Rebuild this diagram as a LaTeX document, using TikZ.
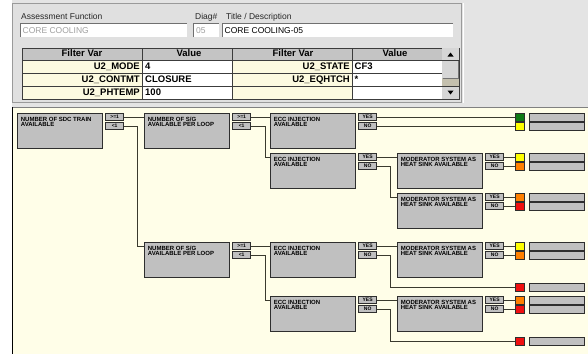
\documentclass[tikz,border=0pt]{standalone}
\usepackage{fontspec}
\setmainfont{Liberation Sans}
\usetikzlibrary{calc}
\definecolor{pagebg}{HTML}{E4E4E4}
\definecolor{panelbg}{HTML}{E0E0E0}
\definecolor{panelline}{HTML}{9A9A9A}
\definecolor{fieldline}{HTML}{707070}
\definecolor{disabledtxt}{HTML}{A0A0A0}
\definecolor{headgray}{HTML}{C4C4C4}
\definecolor{cellcream}{HTML}{FCFAE0}
\definecolor{tableline}{HTML}{3C3C3C}
\definecolor{sbgray}{HTML}{D6D6D6}
\definecolor{sbtrack}{HTML}{C4C0AE}
\definecolor{diagbg}{HTML}{FFFEE8}
\definecolor{boxgray}{HTML}{C0C0C0}
\definecolor{boxline}{HTML}{2E2E2E}
\definecolor{wirecol}{HTML}{3A3A2E}
\definecolor{sqgreen}{HTML}{0E7A14}
\definecolor{sqyellow}{HTML}{FFFF00}
\definecolor{sqorange}{HTML}{FF8000}
\definecolor{sqred}{HTML}{F01010}
\newcommand{\dgtext}[2]{\parbox[t][28pt][t]{78pt}{\raggedright #1\\#2}}
\begin{document}
\begin{tikzpicture}[x=1pt,y=-1pt,
  lbl/.style={font=\fontsize{8.5}{10}\selectfont, anchor=base west, inner sep=0pt, text=black!85},
  fieldtxt/.style={font=\fontsize{8.5}{10}\selectfont, anchor=base west, inner sep=0pt},
  th/.style={font=\fontsize{9.5}{11}\bfseries\selectfont, anchor=base, inner sep=0pt},
  tdr/.style={font=\fontsize{9.5}{11}\bfseries\selectfont, anchor=base east, inner sep=0pt},
  tdl/.style={font=\fontsize{9.5}{11}\bfseries\selectfont, anchor=base west, inner sep=0pt},
  dgbox/.style={draw=boxline, fill=boxgray, line width=0.8pt, anchor=north west,
    inner xsep=3.5pt, inner ysep=3.5pt, font=\fontsize{6}{5.2}\bfseries\selectfont},
  port/.style={draw=boxline, fill=boxgray, line width=0.7pt, anchor=west,
    minimum width=18pt, minimum height=6.5pt, inner sep=0pt,
    font=\fontsize{5}{5}\bfseries\selectfont},
  wire/.style={draw=wirecol, line width=0.8pt},
  sq/.style={draw=boxline, line width=0.6pt, anchor=west, minimum width=9pt,
    minimum height=8pt, inner sep=0pt},
  bar/.style={draw=boxline, fill=boxgray, line width=0.7pt, anchor=west,
    minimum width=55pt, minimum height=8pt, inner sep=0pt}
]
\useasboundingbox (0,0) rectangle (588,354);
% ---------- backgrounds ----------
\fill[white] (0,0) rectangle (588,354);
\fill[pagebg] (12,0) rectangle (588,107);
\fill[panelbg] (12,3) rectangle (462,103);
\draw[panelline, line width=0.8pt] (12.4,3.4) rectangle (461.6,102.6);
\draw[white, line width=0.8pt] (463.2,3) -- (463.2,103);
% ---------- fields ----------
\node[lbl] (lafn) at (21,19.5) {Assessment Function};
\node[lbl] (ldiag) at (195,19.5) {Diag\#};
\node[lbl] (ltitle) at (226,19.5) {Title / Description};
\fill[white] (20,23) rectangle (187,37);
\fill[white] (193,23) rectangle (219,37);
\fill[white] (222,23) rectangle (453,37);
\draw[fieldline, line width=1.4pt] (20.7,37) -- (20.7,23.7) -- (187,23.7);
\draw[fieldline, line width=1.4pt] (193.7,37) -- (193.7,23.7) -- (219,23.7);
\draw[fieldline, line width=1.4pt] (222.7,37) -- (222.7,23.7) -- (453,23.7);
\node[fieldtxt, text=disabledtxt] (fafn) at (22.5,33) {CORE COOLING};
\node[fieldtxt, text=disabledtxt] (fdiag) at (196,33) {05};
\node[fieldtxt] (ftitle) at (224.5,33) {CORE COOLING-05};
% ---------- table ----------
\fill[headgray] (22,48) rectangle (442,60);
\fill[cellcream] (22,60) rectangle (142,99);
\fill[cellcream] (232,60) rectangle (352,99);
\fill[white] (142,60) rectangle (232,99);
\fill[white] (352,60) rectangle (442,99);
\draw[tableline, line width=0.8pt] (22,48) rectangle (459,99);
\foreach \cx in {142,232,352,442} \draw[tableline, line width=0.8pt] (\cx,48) -- (\cx,99);
\foreach \ry in {60,73,86} \draw[tableline, line width=0.8pt] (22,\ry) -- (442,\ry);
\node[th] (h1) at (82,56.5) {Filter Var};
\node[th] (h2) at (189,56.5) {Value};
\node[th] (h3) at (293,56.5) {Filter Var};
\node[th] (h4) at (395,56.5) {Value};
\node[tdr] (c11) at (140,69.5) {U2\_MODE};
\node[tdl] (c12) at (145,69.5) {4};
\node[tdr] (c13) at (350,69.5) {U2\_STATE};
\node[tdl] (c14) at (354.5,69.5) {CF3};
\node[tdr] (c21) at (140,82.5) {U2\_CONTMT};
\node[tdl] (c22) at (145,82.5) {CLOSURE};
\node[tdr] (c23) at (350,82.5) {U2\_EQHTCH};
\node[tdl] (c24) at (354.5,82.5) {*};
\node[tdr] (c31) at (140,95.5) {U2\_PHTEMP};
\node[tdl] (c32) at (145,95.5) {100};
% scrollbar
\fill[sbgray] (442.4,48.4) rectangle (458.6,60);
\fill[sbgray] (442.4,60.4) rectangle (458.6,78);
\fill[sbtrack] (442.4,78) rectangle (458.6,85.6);
\fill[sbgray] (442.4,86.4) rectangle (458.6,98.6);
\draw[tableline, line width=0.6pt] (442,60) -- (459,60);
\draw[black!55, line width=0.6pt] (442.5,78) -- (458.5,78) -- (458.5,60.5);
\draw[tableline, line width=0.6pt] (442,86) -- (459,86);
\fill[black] (447.5,56.5) -- (453.5,56.5) -- (450.5,52.5) -- cycle;
\fill[black] (447.5,90.5) -- (453.5,90.5) -- (450.5,94.5) -- cycle;
% ---------- diagram area ----------
\fill[diagbg] (12,107) rectangle (588,354);
\draw[black!50, line width=0.8pt] (12,107.2) -- (588,107.2);
\draw[black, line width=1.3pt] (12.65,107) -- (12.65,354);
% boxes
\node[dgbox] (sdc)  at (17,113)  {\dgtext{NUMBER OF SDC TRAIN}{AVAILABLE}};
\node[dgbox] (sag1) at (144,113) {\dgtext{NUMBER OF S/G}{AVAILABLE PER LOOP}};
\node[dgbox] (sag2) at (144,242) {\dgtext{NUMBER OF S/G}{AVAILABLE PER LOOP}};
\node[dgbox] (ecc1) at (270,113) {\dgtext{ECC INJECTION}{AVAILABLE}};
\node[dgbox] (ecc2) at (270,153) {\dgtext{ECC INJECTION}{AVAILABLE}};
\node[dgbox] (ecc3) at (270,242) {\dgtext{ECC INJECTION}{AVAILABLE}};
\node[dgbox] (ecc4) at (270,296) {\dgtext{ECC INJECTION}{AVAILABLE}};
\node[dgbox] (mod1) at (397,153) {\dgtext{MODERATOR SYSTEM AS}{HEAT SINK AVAILABLE}};
\node[dgbox] (mod2) at (397,193) {\dgtext{MODERATOR SYSTEM AS}{HEAT SINK AVAILABLE}};
\node[dgbox] (mod3) at (397,242) {\dgtext{MODERATOR SYSTEM AS}{HEAT SINK AVAILABLE}};
\node[dgbox] (mod4) at (397,296) {\dgtext{MODERATOR SYSTEM AS}{HEAT SINK AVAILABLE}};
% ports
\node[port] (sdc-a) at ([shift={(2.5,4)}]sdc.north east) {>=1};
\node[port] (sdc-b) at ([shift={(2.5,13)}]sdc.north east) {<1};
\foreach \b in {sag1,sag2}{
  \node[port] (\b-a) at ([shift={(2.5,4)}]\b.north east) {>=1};
  \node[port] (\b-b) at ([shift={(2.5,13)}]\b.north east) {<1};
}
\foreach \b in {ecc1,ecc2,ecc3,ecc4,mod1,mod2,mod3,mod4}{
  \node[port] (\b-y) at ([shift={(2.5,4)}]\b.north east) {YES};
  \node[port] (\b-n) at ([shift={(2.5,13)}]\b.north east) {NO};
}
% result squares and bars
\node[sq, fill=sqgreen]  (s1)  at (515,117) {};
\node[sq, fill=sqyellow] (s2)  at (515,126) {};
\node[sq, fill=sqyellow] (s3)  at (515,157) {};
\node[sq, fill=sqorange] (s4)  at (515,166) {};
\node[sq, fill=sqorange] (s5)  at (515,197) {};
\node[sq, fill=sqred]    (s6)  at (515,206) {};
\node[sq, fill=sqyellow] (s7)  at (515,246) {};
\node[sq, fill=sqorange] (s8)  at (515,255) {};
\node[sq, fill=sqred]    (s9)  at (515,287) {};
\node[sq, fill=sqorange] (s10) at (515,300) {};
\node[sq, fill=sqred]    (s11) at (515,309) {};
\node[sq, fill=sqred]    (s12) at (515,341) {};
\foreach \i/\yy in {1/117,2/126,3/157,4/166,5/197,6/206,7/246,8/255,9/287,10/300,11/309,12/341}
  \node[bar] (b\i) at (529,\yy) {};
% junction columns
\coordinate (j1) at (137,0);
\coordinate (j2) at (265,0);
\coordinate (j3) at (390,0);
% connectors
\draw[wire] (sdc-a.east) -- (sdc-a.east -| sag1.west);
\draw[wire] (sdc-b.east) -- (sdc-b.east -| j1) |- (sag2-a.west -| sag2.west);
\draw[wire] (sag1-a.east) -- (sag1-a.east -| ecc1.west);
\draw[wire] (sag1-b.east) -- (sag1-b.east -| j2) |- (ecc2-y.west -| ecc2.west);
\draw[wire] (sag2-a.east) -- (sag2-a.east -| ecc3.west);
\draw[wire] (sag2-b.east) -- (sag2-b.east -| j2) |- (ecc4-y.west -| ecc4.west);
\draw[wire] (ecc1-y.east) -- (s1.west);
\draw[wire] (ecc1-n.east) -- (s2.west);
\draw[wire] (ecc2-y.east) -- (ecc2-y.east -| mod1.west);
\draw[wire] (ecc2-n.east) -- (ecc2-n.east -| j3) |- (mod2-y.west -| mod2.west);
\draw[wire] (ecc3-y.east) -- (ecc3-y.east -| mod3.west);
\draw[wire] (ecc3-n.east) -- (ecc3-n.east -| j3) |- (s9.west);
\draw[wire] (ecc4-y.east) -- (ecc4-y.east -| mod4.west);
\draw[wire] (ecc4-n.east) -- (ecc4-n.east -| j3) |- (s12.west);
\draw[wire] (mod1-y.east) -- (s3.west);
\draw[wire] (mod1-n.east) -- (s4.west);
\draw[wire] (mod2-y.east) -- (s5.west);
\draw[wire] (mod2-n.east) -- (s6.west);
\draw[wire] (mod3-y.east) -- (s7.west);
\draw[wire] (mod3-n.east) -- (s8.west);
\draw[wire] (mod4-y.east) -- (s10.west);
\draw[wire] (mod4-n.east) -- (s11.west);
\end{tikzpicture}
\end{document}
